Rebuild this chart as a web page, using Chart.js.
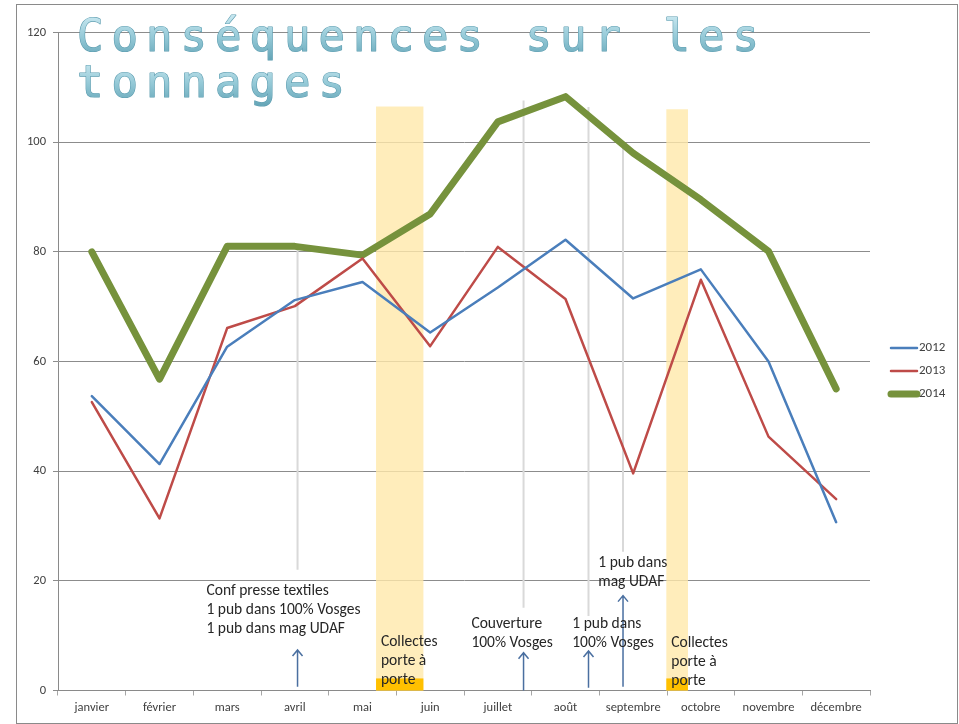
<!DOCTYPE html>
<html lang="fr">
<head>
<meta charset="utf-8">
<title>Conséquences sur les tonnages</title>
<script src="https://cdn.jsdelivr.net/npm/chart.js@4.4.1/dist/chart.umd.min.js"></script>
<style>
  html, body { margin: 0; padding: 0; background: #fff; }
  #frame { position: absolute; left: 16px; top: 4px; width: 940px; height: 718px; border: 1px solid #8a8a8a; }
  #tonnages { position: absolute; left: 0; top: 0; }
</style>
</head>
<body>
<div id="frame"></div>
<canvas id="tonnages" width="959" height="724"></canvas>
<script>
// ======================= DONNEES =======================
const months = ['janvier', 'février', 'mars', 'avril', 'mai', 'juin', 'juillet', 'août', 'septembre', 'octobre', 'novembre', 'décembre'];
const t2012 = [53.7, 41.3, 62.7, 71.2, 74.5, 65.3, 73.5, 82.2, 71.5, 76.8, 60.0, 30.7];
const t2013 = [52.6, 31.4, 66.1, 70.1, 78.8, 62.8, 80.9, 71.4, 39.6, 74.9, 46.3, 34.9];
const t2014 = [80.0, 56.8, 81.0, 81.0, 79.4, 86.9, 103.7, 108.3, 98.0, 89.5, 80.1, 55.0];
const yTicks = [0, 20, 40, 60, 80, 100, 120];

// ======================= ANNOTATIONS (unités du graphique) =======================
// bandes "Collectes porte à porte" : de / à (index mois), haut (tonnes)
const bands = [
  { from: 4.20, to: 4.90, top: 106.5, base: 2.2 },
  { from: 8.49, to: 8.81, top: 106.0, base: 2.2 }
];
// traits gris verticaux : x, bas, haut
const guides = [
  [3.04, 22.0, 81.3],
  [6.38, 15.1, 107.6],
  [7.34, 13.6, 106.4],
  [7.85, 25.3, 99.6]
];
// flèches : x, pied, pointe
const arrows = [
  [3.04, 0.7, 7.4],
  [6.38, 0.0, 6.9],
  [7.34, 0.5, 7.2],
  [7.85, 0.7, 17.3]
];
// textes : x gauche, y 1re ligne, lignes
const notes = [
  { x: 1.694, y: 18.18, lines: ['Conf presse textiles', '1 pub dans 100% Vosges', '1 pub dans mag UDAF'] },
  { x: 4.272, y: 8.88, lines: ['Collectes', 'porte à', 'porte'] },
  { x: 5.609, y: 12.16, lines: ['Couverture', '100% Vosges'] },
  { x: 7.100, y: 12.16, lines: ['1 pub dans', '100% Vosges'] },
  { x: 7.485, y: 23.28, lines: ['1 pub dans', 'mag UDAF'] },
  { x: 8.563, y: 8.70, lines: ['Collectes', 'porte à', 'porte'] }
];
const titleLines = ['Conséquences sur les', 'tonnages'];

const FONT = 'Carlito, Lato, "Liberation Sans", sans-serif';

// ======================= PLUGIN DECOR =======================
const decor = {
  id: 'decor',
  beforeDatasetsDraw(chart) {
    const { ctx, scales: { x, y } } = chart;
    ctx.save();

    // traits gris
    ctx.strokeStyle = '#d9d9d9';
    ctx.lineWidth = 2;
    guides.forEach(g => {
      const px = x.getPixelForValue(g[0]);
      ctx.beginPath();
      ctx.moveTo(px, y.getPixelForValue(g[1]));
      ctx.lineTo(px, y.getPixelForValue(g[2]));
      ctx.stroke();
    });

    // bandes jaunes + pied orange
    bands.forEach(b => {
      const x0 = x.getPixelForValue(b.from);
      const x1 = x.getPixelForValue(b.to);
      const y0 = y.getPixelForValue(0);
      ctx.fillStyle = 'rgba(255,232,170,0.8)';
      ctx.fillRect(x0, y.getPixelForValue(b.top), x1 - x0, y0 - y.getPixelForValue(b.top));
      ctx.fillStyle = '#ffc000';
      ctx.fillRect(x0, y.getPixelForValue(b.base), x1 - x0, y0 - y.getPixelForValue(b.base));
    });
    ctx.restore();
  },

  afterDatasetsDraw(chart) {
    const { ctx, scales: { x, y }, chartArea } = chart;
    ctx.save();

    // flèches
    ctx.strokeStyle = '#4a6fa0';
    ctx.lineWidth = 1.5;
    arrows.forEach(a => {
      const px = x.getPixelForValue(a[0]);
      const yb = y.getPixelForValue(a[1]);
      const yt = y.getPixelForValue(a[2]);
      ctx.beginPath();
      ctx.moveTo(px, yb);
      ctx.lineTo(px, yt);
      ctx.moveTo(px - 5, yt + 6);
      ctx.lineTo(px, yt);
      ctx.lineTo(px + 5, yt + 6);
      ctx.stroke();
    });

    // textes
    ctx.fillStyle = '#262626';
    ctx.font = '15.5px ' + FONT;
    ctx.textBaseline = 'middle';
    ctx.textAlign = 'left';
    notes.forEach(n => {
      const px = x.getPixelForValue(n.x);
      const py = y.getPixelForValue(n.y);
      n.lines.forEach((l, i) => ctx.fillText(l, px, py + i * 19));
    });

    // légende
    ctx.font = '13px ' + FONT;
    chart.data.datasets.forEach((ds, i) => {
      const ly = 348 + i * 23;
      const lx = chartArea.right + 21;
      ctx.strokeStyle = ds.borderColor;
      ctx.lineWidth = ds.borderWidth;
      ctx.lineCap = 'round';
      ctx.beginPath();
      ctx.moveTo(lx, ly);
      ctx.lineTo(lx + 26, ly);
      ctx.stroke();
      ctx.fillStyle = '#404040';
      ctx.fillText(ds.label, lx + 28, ly);
    });
    ctx.restore();
  },

  afterDraw(chart) {
    const { ctx } = chart;
    ctx.save();
    ctx.font = '44px "DejaVu Sans Mono"';
    ctx.textBaseline = 'alphabetic';
    ctx.textAlign = 'left';
    ctx.lineJoin = 'round';
    titleLines.forEach((line, li) => {
      const base = 51 + li * 46;
      const grad = ctx.createLinearGradient(0, base - 34, 0, base + 8);
      grad.addColorStop(0, '#c4e5ee');
      grad.addColorStop(0.5, '#93c8d6');
      grad.addColorStop(1, '#66a6b8');
      [...line].forEach((ch, i) => {
        const cx = 77 + i * 34.5;
        ctx.strokeStyle = '#5d9db0';
        ctx.lineWidth = 1.2;
        ctx.strokeText(ch, cx, base);
        ctx.fillStyle = grad;
        ctx.fillText(ch, cx, base);
      });
    });
    ctx.restore();
  }
};

// ======================= CHART =======================
document.addEventListener('DOMContentLoaded', () => {
  const ctx = document.getElementById('tonnages').getContext('2d');

  new Chart(ctx, {
    type: 'line',
    data: {
      labels: months,
      datasets: [
        { label: '2012', data: t2012, borderColor: '#4a7ebb', borderWidth: 2.5 },
        { label: '2013', data: t2013, borderColor: '#be4b48', borderWidth: 2.5 },
        { label: '2014', data: t2014, borderColor: '#76923c', borderWidth: 7 }
      ].map(d => Object.assign(d, {
        pointRadius: 0,
        tension: 0,
        fill: false,
        borderCapStyle: 'round',
        borderJoinStyle: 'round'
      }))
    },
    options: {
      responsive: false,
      devicePixelRatio: 1,
      animation: false,
      layout: { padding: { left: 0, top: 32.5, right: 89, bottom: 0 } },
      plugins: {
        legend: { display: false },
        title: { display: false },
        tooltip: { enabled: false }
      },
      scales: {
        x: {
          offset: true,
          grid: { offset: true, drawOnChartArea: false, tickLength: 5, color: '#a6a6a6' },
          border: { color: '#8a8a8a' },
          ticks: { color: '#404040', font: { family: FONT, size: 12.5 }, padding: 5, maxRotation: 0, autoSkip: false },
          afterFit: s => { s.height = 33.5; }
        },
        y: {
          min: 0,
          max: 120,
          afterBuildTicks: s => { s.ticks = yTicks.map(v => ({ value: v })); },
          grid: { color: '#8c8c8c', tickLength: 5 },
          border: { color: '#8a8a8a' },
          ticks: { color: '#404040', font: { family: FONT, size: 12.5 }, padding: 7 },
          afterFit: s => { s.width = 58; }
        }
      }
    },
    plugins: [decor]
  });
});
</script>
</body>
</html>
